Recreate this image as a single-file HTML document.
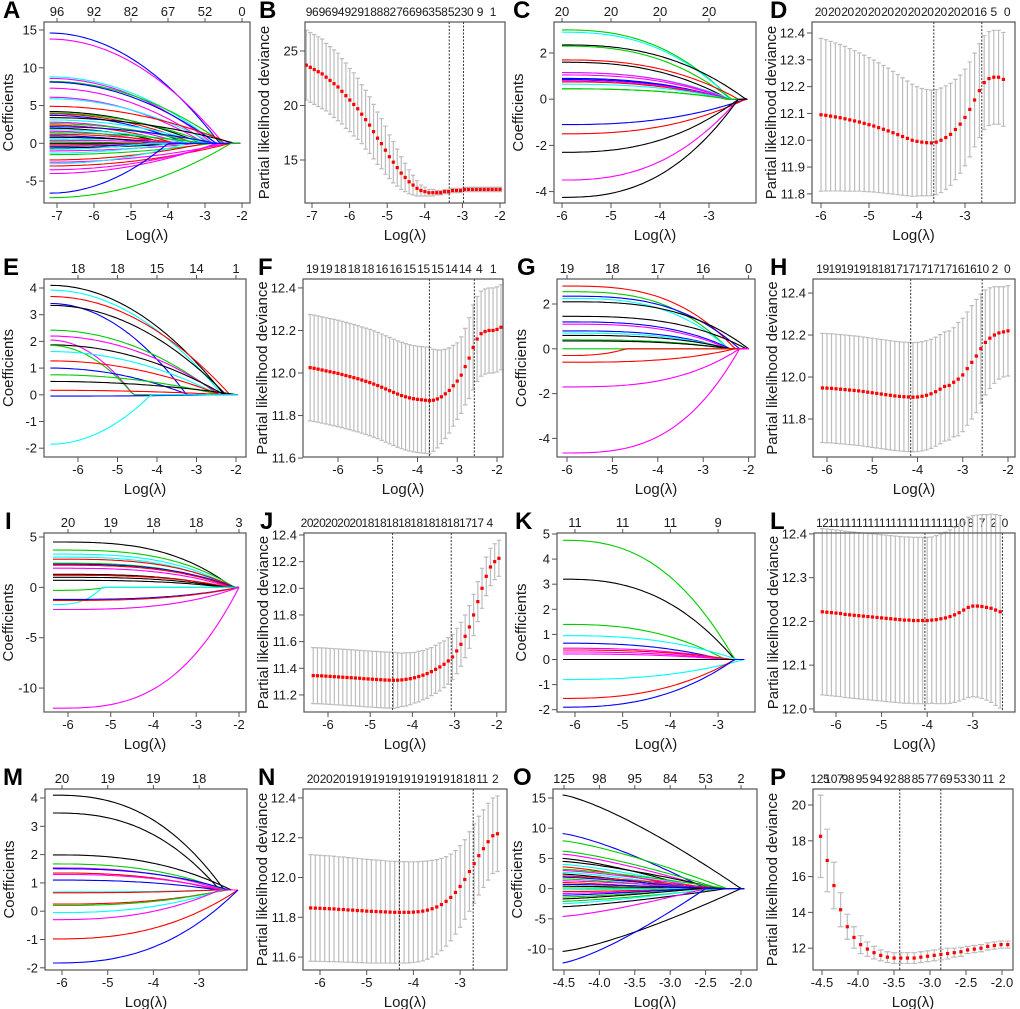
<!DOCTYPE html>
<html><head><meta charset="utf-8"><title>LASSO panels</title>
<style>
html,body{margin:0;padding:0;background:#fff;}
svg{display:block;font-family:"Liberation Sans",Arial,sans-serif;}
</style></head>
<body>
<svg id="fig" xmlns="http://www.w3.org/2000/svg" width="1020" height="1009" viewBox="0 0 1020 1009"></svg>
<script>
// ===== Coefficient path data (start value at smallest lambda, log-lambda where it reaches end) =====
const aStarts=[14.6,13.8,8.8,8.6,8.2,8.1,7.3,6.1,5.9,4.9,4.2,4.0,3.9,3.7,3.4,3.1,2.8,2.6,2.4,2.2,2.0,1.8,1.6,1.4,1.2,1.0,0.8,0.6,0.4,0.2,0.0,-0.2,-0.4,-0.6,-0.8,-1.0,-1.3,-1.5,-2.2,-2.5,-2.7,-3.0,-3.5,-4.0,-6.6,-7.2];
const aEnds=[-2.6,-2.5,-2.7,-2.8,-2.5,-2.7,-2.9,-3.0,-2.8,-2.3,-3.1,-2.9,-3.3,-3.5,-2.2,-3.0,-3.6,-3.2,-3.8,-2.7,-4.0,-3.4,-4.2,-3.0,-3.7,-4.4,-3.9,-4.6,-3.3,-5.0,-7.2,-4.8,-4.1,-3.6,-4.5,-3.2,-3.9,-2.8,-3.0,-2.4,-3.5,-2.3,-2.6,-2.7,-4.0,-2.3];
const aColors=[3,5,4,5,2,3,5,5,4,1,0,2,1,3,0,4,5,2,1,3,0,4,5,2,1,3,0,4,5,2,0,1,3,0,4,5,4,2,1,5,4,1,5,5,3,2];
const aTop=['96','92','82','67','52','0'];

const cStarts=[3.0,2.9,2.35,2.3,1.7,1.6,1.15,1.15,1.05,0.9,0.85,0.8,0.75,0.65,0.45,0.45,-1.1,-1.5,-2.3,-3.5,-4.25];
const cEnds=[-2.55,-2.55,-2.25,-2.55,-2.4,-2.6,-2.55,-2.6,-2.6,-2.65,-2.6,-2.6,-2.65,-2.6,-2.6,-2.55,-2.25,-2.25,-2.4,-2.4,-2.4];
const cColors=[2,4,0,2,1,0,4,5,5,3,3,5,1,4,2,2,3,1,0,5,0];
const cTop=['20','20','20','20'];

const eStarts=[4.1,3.92,3.68,3.42,3.35,2.42,2.2,2.05,1.87,1.85,1.62,1.27,1.0,0.75,0.5,0.17,-0.05,-1.85];
const eEnds=[-2.3,-2.35,-2.15,-3.25,-2.25,-2.45,-2.4,-4.6,-2.3,-4.6,-2.45,-2.4,-3.2,-2.4,-1.95,-2.2,-2.3,-4.15];
const eColors=[0,4,1,3,0,2,5,5,0,2,4,1,3,2,0,1,3,4];
const eTop=['18','18','15','14','1'];

const gStarts=[2.8,2.55,2.35,2.25,2.1,1.45,1.2,1.1,0.8,0.7,0.6,0.4,0.35,0.0,-0.3,-0.6,-1.7,-4.65];
const gEnds=[-2.3,-2.45,-2.2,-2.45,-2.0,-2.05,-2.4,-2.45,-2.5,-2.45,-2.4,-2.45,-2.4,-2.4,-4.7,-2.3,-2.2,-2.2];
const gColors=[1,2,3,4,0,0,3,5,3,4,0,2,0,2,1,1,5,5];
const gTop=['19','18','17','16','0'];

const iStarts=[4.5,3.7,3.3,3.0,2.8,2.4,2.3,2.2,1.9,1.3,1.2,1.0,0.7,-0.3,-1.7,-1.2,-1.3,-2.2,-12.0];
const iEnds=[-2.15,-2.1,-2.15,-2.2,-2.1,-2.2,-2.1,-2.15,-2.2,-2.3,-2.2,-2.3,-2.3,-5.1,-5.2,-2.0,-2.0,-2.0,-2.0];
const iColors=[0,2,4,4,1,2,3,1,5,0,1,0,0,2,4,3,1,5,5];
const iTop=['20','19','18','18','3'];

const kStarts=[4.75,3.2,1.4,0.95,0.65,0.45,0.38,0.3,0.22,0.0,-0.8,-1.55,-1.9];
const kEnds=[-2.65,-2.65,-2.85,-2.6,-2.9,-2.75,-2.7,-2.8,-2.8,-2.45,-2.45,-2.65,-2.65];
const kColors=[2,0,2,4,3,5,1,5,5,0,4,1,3];
const kTop=['11','11','11','9'];

const mStarts=[4.1,3.47,1.99,1.67,1.53,1.5,1.35,1.3,1.1,0.68,0.65,0.25,0.2,-0.05,-0.3,-0.98,-1.83];
const mEnds=[-2.45,-2.55,-2.3,-2.45,-2.5,-2.35,-2.6,-2.5,-2.6,-2.6,-2.6,-2.4,-2.45,-2.5,-2.55,-2.15,-2.15];
const mColors=[0,0,0,2,5,3,1,5,3,4,1,1,2,4,5,1,3];
const mTop=['20','19','19','18'];

const oStarts=[15.5,9.1,7.9,6.2,5.7,5.0,4.5,4.0,3.6,3.2,3.0,2.7,2.4,2.1,1.9,1.6,1.3,1.0,0.7,0.4,0.1,-0.2,-0.5,-0.8,-1.1,-1.4,-1.7,-2.1,-2.5,-3.0,-4.6,-10.4,-12.3];
const oEnds=[-2.0,-2.5,-2.2,-2.3,-2.4,-2.6,-2.3,-2.5,-2.7,-2.2,-2.4,-2.6,-2.8,-2.3,-2.5,-2.7,-2.4,-2.9,-2.2,-2.6,-2.5,-2.8,-2.3,-2.4,-2.7,-2.5,-2.6,-2.3,-2.4,-2.2,-2.5,-2.0,-2.5];
const oColors=[0,3,2,2,5,0,0,4,1,2,5,4,0,1,3,2,5,1,3,0,2,4,1,5,3,2,0,2,4,0,5,0,3];
const oTop=['125','98','95','84','53','2'];

// ===== Cross-validation data (mean deviance and standard error) =====
const bMeans=[23.7,23.5,23.3,23.1,22.9,22.6,22.3,22.0,21.7,21.3,20.9,20.5,20.1,19.7,19.2,18.7,18.2,17.6,17.0,16.5,15.9,15.3,14.8,14.3,13.8,13.4,13.0,12.7,12.4,12.2,12.1,12.0,12.0,12.0,12.0,12.1,12.1,12.2,12.2,12.2,12.3,12.3,12.3,12.3,12.3,12.3,12.3,12.3,12.3,12.3];
const bSE=[3.2,3.2,3.2,3.2,3.2,3.1,3.1,3.1,3.1,3.0,3.0,2.9,2.9,2.8,2.7,2.7,2.6,2.5,2.4,2.3,2.2,2.0,1.9,1.7,1.5,1.3,1.1,0.9,0.7,0.5,0.4,0.3,0.3,0.2,0.2,0.2,0.2,0.2,0.2,0.2,0.2,0.2,0.2,0.2,0.2,0.2,0.2,0.2,0.2,0.2];
const bTop=['96','96','94','92','91','88','82','76','69','63','58','52','30','9','1'];
const bCut=[-3.35,-2.97];

const dMeans=[12.095,12.093,12.090,12.087,12.084,12.080,12.076,12.072,12.068,12.063,12.058,12.053,12.047,12.041,12.035,12.028,12.021,12.014,12.007,12.000,11.996,11.993,11.991,11.990,11.993,12.000,12.010,12.022,12.040,12.060,12.085,12.115,12.150,12.185,12.215,12.230,12.235,12.235,12.227];
const dSE=[0.285,0.282,0.279,0.276,0.273,0.270,0.266,0.262,0.258,0.254,0.250,0.246,0.242,0.238,0.234,0.229,0.224,0.219,0.214,0.209,0.204,0.200,0.198,0.197,0.196,0.195,0.193,0.190,0.187,0.183,0.180,0.177,0.175,0.175,0.175,0.175,0.175,0.175,0.175];
const dTop=['20','20','20','20','20','20','20','20','20','20','20','20','16','5','0'];
const dCut=[-3.65,-2.65];

const fMeans=[12.025,12.022,12.018,12.014,12.010,12.006,12.002,11.998,11.993,11.988,11.983,11.978,11.973,11.967,11.961,11.955,11.948,11.941,11.933,11.925,11.917,11.909,11.901,11.894,11.888,11.883,11.879,11.876,11.874,11.872,11.870,11.872,11.878,11.888,11.902,11.918,11.94,11.962,11.99,12.03,12.07,12.12,12.16,12.185,12.195,12.2,12.2,12.205,12.215];
const fSE=[0.25,0.25,0.25,0.25,0.25,0.25,0.25,0.25,0.25,0.25,0.25,0.25,0.25,0.25,0.25,0.25,0.25,0.25,0.25,0.25,0.25,0.25,0.25,0.25,0.25,0.25,0.25,0.25,0.25,0.25,0.25,0.24,0.23,0.22,0.21,0.2,0.19,0.18,0.18,0.18,0.19,0.2,0.2,0.2,0.2,0.2,0.2,0.2,0.2];
const fTop=['19','19','18','18','18','16','16','15','15','15','14','14','4','1'];
const fCut=[-3.7,-2.57];

const hMeans=[11.948,11.947,11.946,11.944,11.942,11.940,11.938,11.936,11.934,11.931,11.928,11.925,11.922,11.919,11.916,11.913,11.910,11.908,11.906,11.905,11.904,11.905,11.908,11.913,11.92,11.93,11.942,11.955,11.96,11.975,11.99,12.01,12.04,12.07,12.1,12.135,12.165,12.185,12.2,12.21,12.215,12.22];
const hSE=[0.26,0.26,0.26,0.26,0.26,0.26,0.26,0.26,0.26,0.26,0.26,0.26,0.26,0.26,0.26,0.26,0.26,0.26,0.26,0.26,0.26,0.26,0.26,0.26,0.26,0.26,0.26,0.26,0.26,0.26,0.27,0.27,0.27,0.27,0.27,0.26,0.25,0.24,0.23,0.22,0.215,0.215];
const hTop=['19','19','19','19','18','18','17','17','17','17','17','16','16','10','2','0'];
const hCut=[-4.15,-2.57];

const jMeans=[11.345,11.344,11.343,11.341,11.339,11.337,11.335,11.333,11.331,11.329,11.327,11.325,11.322,11.320,11.318,11.316,11.314,11.312,11.311,11.310,11.311,11.313,11.317,11.322,11.329,11.338,11.348,11.36,11.375,11.392,11.41,11.43,11.455,11.485,11.53,11.58,11.64,11.71,11.8,11.9,12.0,12.09,12.16,12.2,12.225];
const jSE=[0.21,0.21,0.21,0.21,0.21,0.21,0.21,0.21,0.21,0.21,0.21,0.21,0.21,0.21,0.21,0.21,0.21,0.21,0.21,0.21,0.205,0.2,0.2,0.195,0.19,0.19,0.185,0.185,0.18,0.18,0.18,0.175,0.175,0.17,0.17,0.165,0.16,0.16,0.155,0.15,0.15,0.145,0.14,0.135,0.135];
const jTop=['20','20','20','20','20','18','18','18','18','18','18','18','18','17','17','4'];
const jCut=[-4.47,-3.08];

const lMeans=[12.222,12.221,12.220,12.219,12.218,12.216,12.215,12.214,12.213,12.212,12.211,12.210,12.209,12.208,12.207,12.206,12.205,12.204,12.203,12.203,12.202,12.202,12.202,12.202,12.203,12.204,12.206,12.208,12.211,12.215,12.22,12.226,12.232,12.235,12.235,12.234,12.232,12.23,12.226,12.222];
const lSE=[0.19,0.19,0.19,0.19,0.19,0.19,0.19,0.19,0.19,0.19,0.19,0.19,0.19,0.19,0.19,0.19,0.19,0.19,0.19,0.19,0.19,0.19,0.19,0.19,0.19,0.192,0.194,0.196,0.198,0.2,0.202,0.204,0.206,0.207,0.208,0.21,0.212,0.215,0.218,0.22];
const lTop=['12','11','11','11','11','11','11','11','11','11','11','11','10','8','7','2','0'];
const lCut=[-4.05,-2.35];

const nMeans=[11.847,11.846,11.845,11.844,11.843,11.842,11.840,11.839,11.837,11.836,11.834,11.833,11.831,11.830,11.829,11.828,11.827,11.826,11.825,11.825,11.825,11.825,11.826,11.828,11.831,11.836,11.843,11.852,11.864,11.88,11.9,11.925,11.955,11.99,12.03,12.07,12.11,12.145,12.18,12.21,12.22];
const nSE=[0.268,0.267,0.267,0.266,0.266,0.265,0.264,0.264,0.263,0.262,0.262,0.261,0.260,0.260,0.259,0.258,0.257,0.256,0.256,0.255,0.255,0.254,0.253,0.252,0.25,0.247,0.243,0.238,0.232,0.225,0.218,0.21,0.205,0.2,0.2,0.2,0.198,0.195,0.193,0.19,0.19];
const nTop=['20','20','20','19','19','19','19','19','19','19','19','18','18','11','2'];
const nCut=[-4.3,-2.72];

const pMeans=[18.25,16.9,15.5,14.15,13.2,12.6,12.2,11.95,11.75,11.6,11.5,11.45,11.45,11.45,11.45,11.5,11.55,11.6,11.65,11.7,11.75,11.8,11.9,11.95,12.0,12.1,12.15,12.2,12.2];
const pSE=[2.3,1.75,1.3,0.95,0.7,0.6,0.5,0.4,0.35,0.3,0.3,0.3,0.3,0.3,0.3,0.3,0.3,0.3,0.3,0.3,0.25,0.25,0.2,0.2,0.2,0.2,0.2,0.2,0.2];
const pTop=['125','107','98','95','94','92','88','85','77','69','53','30','11','2'];
const pCut=[-3.42,-2.85];

// ===== rendering =====
const NS='http://www.w3.org/2000/svg';
const svg=document.getElementById('fig');
const COLS=['#000000','#FF0000','#00CD00','#0000FF','#00FFFF','#FF00FF'];
function mk(tag,attrs,parent){const el=document.createElementNS(NS,tag);for(const k in attrs)el.setAttribute(k,attrs[k]);parent.appendChild(el);return el;}
function txt(s,x,y,size,anchor,parent,extra){const t=mk('text',Object.assign({x:x,y:y,'font-size':size,'text-anchor':anchor,fill:'#1a1a1a'},extra||{}),parent);t.textContent=s;return t;}
function range(a,b,s){const r=[];for(let v=a;v<=b+1e-9;v+=s)r.push(+v.toFixed(4));return r;}

function axes(p){
  const g=mk('g',{},svg);
  
  
  p.sx=v=>p.L+(v-p.xlim[0])/(p.xlim[1]-p.xlim[0])*(p.R-p.L);
  p.sy=v=>p.B-(v-p.ylim[0])/(p.ylim[1]-p.ylim[0])*(p.B-p.T);
  p.g=g;
  const lt=txt(p.letter,p.lx,p.T-4,24,'start',g,{'font-weight':'bold',fill:'#000'});
  
  
  const xa=mk('g',{},g);
  
  
  p.xt.forEach(v=>{const x=p.sx(v);mk('line',{x1:x,x2:x,y1:p.B,y2:p.B+5,stroke:'#555'},xa);
    const t=txt(p.dec?v.toFixed(1):String(v),x,p.B+17,13,'middle',xa);
    
    });
  const xtitle=txt('Log(λ)',(p.L+p.R)/2,p.B+37,15,'middle',xa);
  
  
  const ya=mk('g',{},g);
  
  
  p.yt.forEach(v=>{const y=p.sy(v);mk('line',{x1:p.L-5,x2:p.L,y1:y,y2:y,stroke:'#555'},ya);
    const t=txt(p.ydec?v.toFixed(p.ydec):String(v),p.L-7,y+4.5,13,'end',ya);
    
    });
  const cy=(p.T+p.B)/2, cx=p.L-(p.cv?36:31);
  const yt=txt(p.cv?'Partial likelihood deviance':'Coefficients',cx,cy,15,'middle',ya,{transform:'rotate(-90 '+cx+' '+cy+')'});
  
  
  const ta=mk('g',{},g);
  
  
  const n=p.top.length;
  p.top.forEach((s,i)=>{let xv;
    if(p.topX){xv=p.topX[i];}else{xv=p.topX0+(p.topX1-p.topX0)*i/(n-1);}
    const x=p.sx(xv);
    if(p.topX) mk('line',{x1:x,x2:x,y1:p.T,y2:p.T-4,stroke:'#555'},ta);
    const t=txt(s,x,p.T-6,p.cv?12:13,'middle',ta,p.cv?{'letter-spacing':'-0.4'}:{});
    
    });
  return g;
}
function box(p){const r=mk('rect',{x:p.L,y:p.T,width:p.R-p.L,height:p.B-p.T,fill:'none',stroke:'#555','stroke-width':1.2},p.g);
  
  }

function coefPanel(p,starts,ends,colors){
  axes(p);
  const cp='clip'+p.letter;
  const cl=mk('clipPath',{id:cp},p.g);mk('rect',{x:p.L,y:p.T,width:p.R-p.L,height:p.B-p.T},cl);
  const lg=mk('g',{'clip-path':'url(#'+cp+')'},p.g);
  
  
  const c=p.conv||0;
  starts.forEach((v0,i)=>{
    const xe=ends[i];let d='';const N=60;
    for(let k=0;k<=N;k++){const x=p.x0+(p.xc-p.x0)*k/N;let y;
      if(x>=xe)y=c;else{const u=(x-p.x0)/(xe-p.x0);y=c+(v0-c)*(1-Math.pow(Math.max(u,0),p.pw));}
      d+=(k?'L':'M')+p.sx(x).toFixed(1)+','+p.sy(y).toFixed(1);}
    const path=mk('path',{d:d,fill:'none',stroke:COLS[colors[i]%6],'stroke-width':1.1},lg);
    
    
  });
  box(p);
}
function cvPanel(p,means,se,cuts){
  axes(p);
  const n=means.length;
  const xs=means.map((m,i)=>p.x0+(p.x1-p.x0)*i/(n-1));
  const eg=mk('g',{},p.g);
  
  
  const cw=p.cap||2.2;
  means.forEach((m,i)=>{const x=p.sx(xs[i]),y1=p.sy(m+se[i]),y2=p.sy(m-se[i]);
    const bar=mk('path',{d:`M${x},${y1}V${y2}M${x-cw},${y1}H${x+cw}M${x-cw},${y2}H${x+cw}`,stroke:'#bdbdbd','stroke-width':1.2,fill:'none'},eg);
    
    });
  cuts.forEach(v=>{const x=p.sx(v);const l=mk('line',{x1:x,x2:x,y1:p.T,y2:p.B,stroke:'#333','stroke-dasharray':'2,1.5','stroke-width':1},p.g);
    
    });
  const dg=mk('g',{},p.g);
  
  
  means.forEach((m,i)=>{const r=mk('rect',{x:p.sx(xs[i])-1.6,y:p.sy(m)-1.6,width:3.2,height:3.2,fill:'#FF0000'},dg);
    
    });
  box(p);
}

// Row 1
coefPanel({letter:'A',lx:3,L:44,R:250,T:22,B:203,xlim:[-7.351,-1.784],ylim:[-7.9,16.06],xt:range(-7,-2,1),yt:[-5,0,5,10,15],top:aTop,topX:[-7,-6,-5,-4,-3,-2],x0:-7.2,xc:-2.05,pw:2},aStarts,aEnds,aColors);
cvPanel({cv:true,letter:'B',lx:259,L:305,R:505,T:22,B:203,xlim:[-7.186,-1.867],ylim:[11.055,27.66],xt:range(-7,-2,1),yt:[15,20,25],top:bTop,topX0:-7.0,topX1:-2.19,x0:-7.15,x1:-2.0},bMeans,bSE,bCut);
coefPanel({letter:'C',lx:513,L:554,R:756,T:22,B:203,xlim:[-6.163,-2.041],ylim:[-4.494,3.342],xt:range(-6,-3,1),yt:[-4,-2,0,2],top:cTop,topX:[-6,-5,-4,-3],x0:-6,xc:-2.22,pw:2.5},cStarts,cEnds,cColors);
cvPanel({cv:true,letter:'D',lx:770,L:812,R:1015,T:22,B:203,xlim:[-6.1875,-1.958],ylim:[11.766,12.441],xt:range(-6,-3,1),yt:[11.8,11.9,12.0,12.1,12.2,12.3,12.4],ydec:1,top:dTop,topX0:-6.0,topX1:-2.125,x0:-6.0,x1:-2.2},dMeans,dSE,dCut);
// Row 2
coefPanel({letter:'E',lx:3,L:44,R:246,T:279,B:457,xlim:[-6.861,-1.747],ylim:[-2.33,4.337],xt:range(-6,-2,1),yt:[-2,-1,0,1,2,3,4],top:eTop,topX:[-6,-5,-4,-3,-2],x0:-6.7,xc:-1.95,pw:2},eStarts,eEnds,eColors);
cvPanel({cv:true,letter:'F',lx:258,L:303,R:503,T:279,B:457,xlim:[-6.88,-1.849],ylim:[11.605,12.442],xt:range(-6,-2,1),yt:[11.6,11.8,12.0,12.2,12.4],ydec:1,top:fTop,topX0:-6.65,topX1:-2.1,x0:-6.7,x1:-1.9},fMeans,fSE,fCut);
coefPanel({letter:'G',lx:517,L:557,R:755,T:279,B:457,xlim:[-6.22,-1.859],ylim:[-4.83,3.116],xt:range(-6,-2,1),yt:[-4,-2,0,2],top:gTop,topX:[-6,-5,-4,-3,-2],x0:-6.1,xc:-2.0,pw:3},gStarts,gEnds,gColors);
cvPanel({cv:true,letter:'H',lx:770,L:813,R:1015,T:279,B:457,xlim:[-6.309,-1.845],ylim:[11.619,12.467],xt:range(-6,-2,1),yt:[11.8,12.0,12.2,12.4],ydec:1,top:hTop,topX0:-6.1,topX1:-2.02,x0:-6.1,x1:-2.0},hMeans,hSE,hCut);
// Row 3
coefPanel({letter:'I',lx:5,L:44,R:246,T:533,B:712,xlim:[-6.561,-1.836],ylim:[-12.378,5.397],xt:range(-6,-2,1),yt:[-10,-5,0,5],top:iTop,topX:[-6,-5,-4,-3,-2],x0:-6.35,xc:-2.0,pw:3},iStarts,iEnds,iColors);
cvPanel({cv:true,letter:'J',lx:260,L:304,R:506,T:533,B:712,xlim:[-6.569,-1.782],ylim:[11.072,12.415],xt:range(-6,-2,1),yt:[11.2,11.4,11.6,11.8,12.0,12.2,12.4],ydec:1,top:jTop,topX0:-6.5,topX1:-2.17,x0:-6.35,x1:-1.95},jMeans,jSE,jCut);
coefPanel({letter:'K',lx:515,L:557,R:755,T:533,B:712,xlim:[-6.377,-2.226],ylim:[-2.092,5.04],xt:range(-6,-3,1),yt:[-2,-1,0,1,2,3,4,5],top:kTop,topX:[-6,-5,-4,-3],x0:-6.25,xc:-2.45,pw:2.5},kStarts,kEnds,kColors);
cvPanel({cv:true,letter:'L',lx:770,L:814,R:1015,T:533,B:712,xlim:[-6.482,-2.075],ylim:[11.993,12.402],xt:range(-6,-3,1),yt:[12.0,12.1,12.2,12.3,12.4],ydec:1,top:lTop,topX0:-6.3,topX1:-2.3,x0:-6.3,x1:-2.4},lMeans,lSE,lCut);
// Row 4
coefPanel({letter:'M',lx:3,L:45,R:247,T:789,B:970,xlim:[-6.372,-1.952],ylim:[-2.078,4.318],xt:range(-6,-3,1),yt:[-2,-1,0,1,2,3,4],top:mTop,topX:[-6,-5,-4,-3],x0:-6.2,xc:-2.15,pw:2.5,conv:0.75},mStarts,mEnds,mColors);
cvPanel({cv:true,letter:'N',lx:258,L:303,R:507,T:789,B:970,xlim:[-6.364,-1.996],ylim:[11.535,12.445],xt:range(-6,-3,1),yt:[11.6,11.8,12.0,12.2,12.4],ydec:1,top:nTop,topX0:-6.15,topX1:-2.25,x0:-6.2,x1:-2.2},nMeans,nSE,nCut);
coefPanel({letter:'O',lx:513,L:553,R:757,T:789,B:970,xlim:[-4.655,-1.774],ylim:[-13.477,16.49],xt:range(-4.5,-2.0,0.5),dec:true,yt:[-10,-5,0,5,10,15],top:oTop,topX:[-4.5,-4,-3.5,-3,-2.5,-2],x0:-4.52,xc:-1.95,pw:1.3},oStarts,oEnds,oColors);
cvPanel({cv:true,letter:'P',lx:770,L:813,R:1013,T:789,B:970,xlim:[-4.625,-1.847],ylim:[10.782,20.894],xt:range(-4.5,-2.0,0.5),dec:true,yt:[12,14,16,18,20],top:pTop,topX0:-4.53,topX1:-2.0,x0:-4.52,x1:-1.92,cap:3},pMeans,pSE,pCut);
</script>
</body></html>
